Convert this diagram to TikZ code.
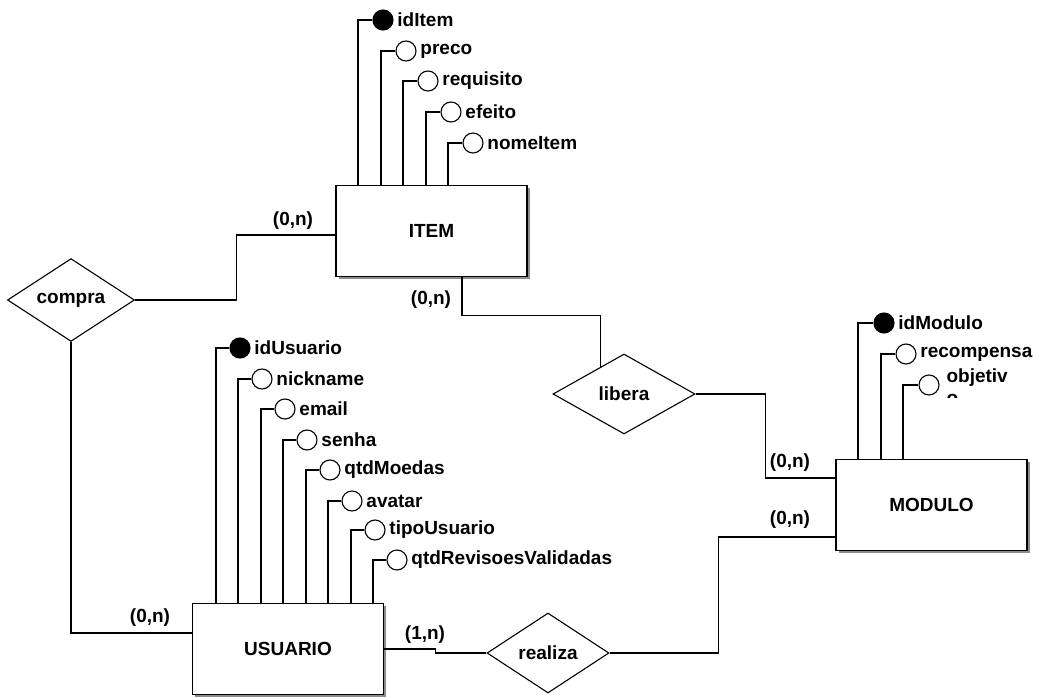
\documentclass[tikz,border=0pt]{standalone}
\usepackage{fontspec}
\setmainfont{Liberation Sans}
\usetikzlibrary{shapes.geometric, shadows}

\tikzset{
  entity/.style={draw, rectangle, fill=white, line width=1.2pt,
    minimum width=191pt, minimum height=91pt,
    drop shadow={shadow xshift=2.5pt, shadow yshift=-2.5pt, fill=black!45, opacity=1}},
  relation/.style={draw, diamond, fill=white, inner sep=0pt},
  attr/.style={draw, circle, fill=white, minimum size=20pt, inner sep=0pt},
  keyattr/.style={attr, fill=black},
  card/.style={inner sep=0pt},
}

\begin{document}
\begin{tikzpicture}[x=1pt, y=-1pt, line width=1.1pt, font=\fontsize{19}{21.5}\selectfont\bfseries]
   \useasboundingbox (0,0) rectangle (1041,698);

   % entities
   \node[entity] (item)    at (431.5,231) {ITEM};
   \node[entity] (modulo)  at (931.5,505) {MODULO};
   \node[entity] (usuario) at (288,649)   {USUARIO};

   % relationships
   \node[relation, minimum width=127pt, minimum height=78pt] (compra)  at (71,300)  {compra};
   \node[relation, minimum width=142pt, minimum height=80pt] (libera)  at (624,394) {libera};
   \node[relation, minimum width=122pt, minimum height=80pt] (realiza) at (548,653) {realiza};

   % attributes of ITEM
   \node[keyattr, label=right:idItem]  (idItem)    at (383,20)  {};
   \node[attr, label=right:preco]      (preco)     at (406,51)  {};
   \node[attr, label=right:requisito]  (requisito) at (428,81)  {};
   \node[attr, label=right:efeito]     (efeito)    at (451,112) {};
   \node[attr, label=right:nomeItem]   (nomeItem)  at (473,143) {};

   \draw (idItem)    -| ([xshift=-73.5pt]item.north);
   \draw (preco)     -| ([xshift=-50.5pt]item.north);
   \draw (requisito) -| ([xshift=-28.5pt]item.north);
   \draw (efeito)    -| ([xshift=-5.5pt]item.north);
   \draw (nomeItem)  -| ([xshift=16.5pt]item.north);

   % attributes of MODULO
   \node[keyattr, label=right:idModulo] (idModulo)   at (884,323) {};
   \node[attr, label=right:recompensa]  (recompensa) at (906,354) {};
   \node[attr]                          (objetivo)   at (929,385) {};
   \node[anchor=base west, inner sep=0pt] (objetivoA) at (946,382) {objetiv};
   \begin{scope}
     \clip (935,360) rectangle (1041,397);
     \node[anchor=base west, inner sep=0pt] (objetivoB) at (946,404) {o};
   \end{scope}

   \draw (idModulo)   -| ([xshift=-73.5pt]modulo.north);
   \draw (recompensa) -| ([xshift=-50.5pt]modulo.north);
   \draw (objetivo)   -| ([xshift=-28.5pt]modulo.north);

   % attributes of USUARIO
   \node[keyattr, label=right:idUsuario]          (idUsuario)   at (240,348) {};
   \node[attr, label=right:nickname]              (nickname)    at (262,379) {};
   \node[attr, label=right:email]                 (email)       at (285,409) {};
   \node[attr, label=right:senha]                 (senha)       at (307,440) {};
   \node[attr, label=right:qtdMoedas]             (qtdMoedas)   at (330,470) {};
   \node[attr, label=right:avatar]                (avatar)      at (352,501) {};
   \node[attr, label=right:tipoUsuario]           (tipoUsuario) at (375,530) {};
   \node[attr, label=right:qtdRevisoesValidadas]  (qtdRevisoes) at (397,560) {};

   \draw (idUsuario)   -| ([xshift=-72pt]usuario.north);
   \draw (nickname)    -| ([xshift=-50pt]usuario.north);
   \draw (email)       -| ([xshift=-27pt]usuario.north);
   \draw (senha)       -| ([xshift=-5pt]usuario.north);
   \draw (qtdMoedas)   -| ([xshift=18pt]usuario.north);
   \draw (avatar)      -| ([xshift=40pt]usuario.north);
   \draw (tipoUsuario) -| ([xshift=63pt]usuario.north);
   \draw (qtdRevisoes) -| ([xshift=85pt]usuario.north);

   % connectors
   \draw (compra.east) -- ++(101,0) |- ([yshift=-4pt]item.west);
   \draw (compra.south) |- ([yshift=16pt]usuario.west);
   \draw ([xshift=30.5pt]item.south) -- ++(0,38) -| (libera.130);
   \draw (libera.east) -- ++(70,0) |- ([yshift=27pt]modulo.west);
   \draw (usuario.east) -- ++(51,0) |- (realiza.west);
   \draw (realiza.east) -- ++(109,0) |- ([yshift=-32pt]modulo.west);

   % cardinalities
   \node[card] (nItemCompra)     at (293,221) {(0,n)};
   \node[card] (nItemLibera)     at (431,300) {(0,n)};
   \node[card] (nModuloLibera)   at (790,463) {(0,n)};
   \node[card] (nModuloRealiza)  at (790,520) {(0,n)};
   \node[card] (nUsuarioCompra)  at (150,618) {(0,n)};
   \node[card] (nUsuarioRealiza) at (425,635) {(1,n)};

\end{tikzpicture}
\end{document}
